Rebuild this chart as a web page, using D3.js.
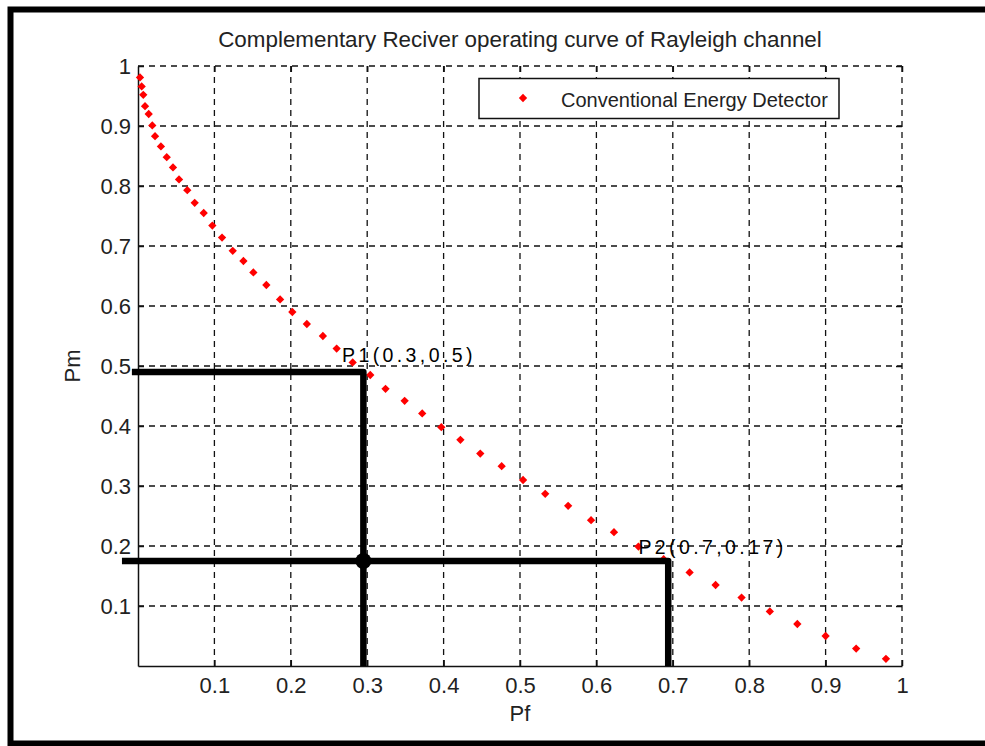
<!DOCTYPE html>
<html>
<head>
<meta charset="utf-8">
<script src="https://cdn.jsdelivr.net/npm/d3@7"></script>
<style>
  body { margin: 0; background: #fff; }
  svg { display: block; }
  text { font-family: "Liberation Sans", Arial, sans-serif; fill: #222; }
</style>
</head>
<body>
<div id="chart"></div>
<script>
// Points of the complementary ROC curve.
const pf = [0.0026, 0.0048, 0.0069, 0.0092, 0.014, 0.0187, 0.0223, 0.030, 0.0376, 0.0458,
    0.0537, 0.0645, 0.0742, 0.086, 0.0973, 0.110, 0.124, 0.138, 0.151, 0.168,
    0.186, 0.202, 0.221, 0.242, 0.260, 0.281, 0.304, 0.324, 0.349, 0.372,
    0.397, 0.422, 0.448, 0.476, 0.504, 0.533, 0.563, 0.593, 0.623, 0.655,
    0.688, 0.722, 0.756, 0.790, 0.827, 0.863, 0.900, 0.940, 0.979];
const pm = [0.981, 0.966, 0.952, 0.933, 0.920, 0.901, 0.883, 0.866, 0.848, 0.831,
    0.811, 0.793, 0.772, 0.755, 0.734, 0.714, 0.692, 0.675, 0.656, 0.635,
    0.611, 0.590, 0.570, 0.550, 0.529, 0.506, 0.485, 0.462, 0.442, 0.421,
    0.398, 0.377, 0.354, 0.333, 0.310, 0.287, 0.267, 0.243, 0.223, 0.199,
    0.178, 0.156, 0.135, 0.114, 0.091, 0.070, 0.050, 0.029, 0.012];

// Tick values for both axes.
const ticks = [0.1, 0.2, 0.3, 0.4, 0.5, 0.6, 0.7, 0.8, 0.9, 1];

// Operating points marked with the thick black guide lines.
const pointNames = ["P1", "P2"];
const pointPf = [0.295, 0.694];
const pointPm = [0.49, 0.175];
const guideStart = [-0.008, -0.021];
const pointLabels = ["P1(0.3,0.5)", "P2(0.7,0.17)"];
const labelPf = [0.267, 0.655];
const labelPm = [0.507, 0.187];

const seriesName = "Conventional Energy Detector";
const title = "Complementary Reciver operating curve of Rayleigh channel";

const width = 985;
const height = 746;

const svg = d3.select("#chart")
    .append("svg")
    .attr("width", width)
    .attr("height", height);

// Outer black frame (right side is cut off in the figure).
svg.append("path")
    .attr("d", "M10.5,746 V9.5 H990 M10.5,743.5 H990")
    .attr("fill", "none")
    .attr("stroke", "#000")
    .attr("stroke-width", 6);

const x = d3.scaleLinear().domain([0, 1]).range([138, 902]);
const y = d3.scaleLinear().domain([0, 1]).range([666, 66]);

// Dashed grid.
const grid = svg.append("g")
    .attr("stroke", "#111")
    .attr("stroke-width", 1.3)
    .attr("stroke-dasharray", "6,5");
grid.selectAll(".gx")
    .data(ticks)
    .enter()
    .append("line")
    .attr("x1", d => x(d))
    .attr("x2", d => x(d))
    .attr("y1", y(0))
    .attr("y2", y(1));
grid.selectAll(".gy")
    .data(ticks)
    .enter()
    .append("line")
    .attr("x1", x(0))
    .attr("x2", x(1))
    .attr("y1", d => y(d))
    .attr("y2", d => y(d));

// Axes with inward ticks.
const axisB = svg.append("g")
    .attr("transform", `translate(0, ${y(0)})`)
    .call(d3.axisBottom(x).tickValues(ticks).tickFormat(d3.format("")).tickSizeInner(-6).tickSizeOuter(0).tickPadding(11));
const axisL = svg.append("g")
    .attr("transform", `translate(${x(0)}, 0)`)
    .call(d3.axisLeft(y).tickValues(ticks).tickFormat(d3.format("")).tickSizeInner(-6).tickSizeOuter(0).tickPadding(7));
const axisT = svg.append("g")
    .attr("transform", `translate(0, ${y(1)})`)
    .call(d3.axisTop(x).tickValues(ticks).tickFormat("").tickSizeInner(-6).tickSizeOuter(0));
const axisR = svg.append("g")
    .attr("transform", `translate(${x(1)}, 0)`)
    .call(d3.axisRight(y).tickValues(ticks).tickFormat("").tickSizeInner(-6).tickSizeOuter(0));
axisT.select(".domain").remove();
axisR.select(".domain").remove();

[axisB, axisL, axisT, axisR].forEach(function(g) {
    g.selectAll("line").attr("stroke", "#111").attr("stroke-width", 1.5);
    g.select(".domain").attr("stroke", "#111").attr("stroke-width", 1.5);
    g.selectAll("text")
        .attr("font-size", 22)
        .attr("font-family", "Liberation Sans, Arial, sans-serif")
        .attr("fill", "#222");
});

// Red markers for the curve.
const diamond = d3.symbol().type(d3.symbolDiamond2).size(44);
svg.append("g")
    .selectAll("path")
    .data(pf.map((v, i) => [v, pm[i]]))
    .enter()
    .append("path")
    .attr("d", diamond)
    .attr("transform", d => `translate(${x(d[0])}, ${y(d[1])})`)
    .attr("fill", "#ff0000");

// Thick guide lines from the axes to the operating points.
const guides = svg.append("g")
    .attr("stroke", "#000")
    .attr("stroke-width", 6.5)
    .attr("fill", "none");
guides.selectAll("path")
    .data(pointNames)
    .enter()
    .append("path")
    .attr("stroke-linejoin", "round")
    .attr("d", (d, i) => `M${x(guideStart[i])},${y(pointPm[i])} H${x(pointPf[i])} V${y(0)}`);

// Dot where the P1 vertical crosses the P2 horizontal.
svg.append("circle")
    .attr("cx", x(pointPf[0]))
    .attr("cy", y(pointPm[1]))
    .attr("r", 8)
    .attr("fill", "#000");

// Point labels.
svg.selectAll(".plabel")
    .data(pointLabels)
    .enter()
    .append("text")
    .attr("x", (d, i) => x(labelPf[i]))
    .attr("y", (d, i) => y(labelPm[i]))
    .attr("font-size", 19.5)
    .attr("letter-spacing", 3.4)
    .style("fill", "#000")
    .text(d => d);

// Legend.
svg.append("rect")
    .attr("x", 479)
    .attr("y", 78.5)
    .attr("width", 360)
    .attr("height", 40)
    .attr("fill", "#fff")
    .attr("stroke", "#111")
    .attr("stroke-width", 1.5);
svg.append("path")
    .attr("d", diamond)
    .attr("transform", "translate(523, 98)")
    .attr("fill", "#ff0000");
svg.append("text")
    .attr("x", 561)
    .attr("y", 107)
    .attr("font-size", 20)
    .text(seriesName);

// Title and axis labels.
svg.append("text")
    .attr("x", (x(0) + x(1)) / 2)
    .attr("y", 47)
    .attr("text-anchor", "middle")
    .attr("font-size", 22.4)
    .text(title);

svg.append("text")
    .attr("x", (x(0) + x(1)) / 2)
    .attr("y", 721)
    .attr("text-anchor", "middle")
    .attr("font-size", 22)
    .text("Pf");

svg.append("text")
    .attr("transform", `translate(80, ${(y(0) + y(1)) / 2}) rotate(-90)`)
    .attr("text-anchor", "middle")
    .attr("font-size", 22)
    .text("Pm");
</script>
</body>
</html>
